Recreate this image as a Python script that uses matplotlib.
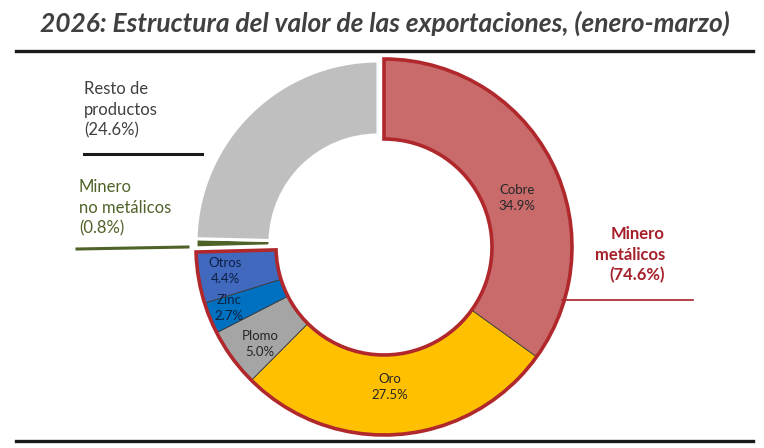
import matplotlib
matplotlib.use("Agg")
import matplotlib.pyplot as plt
from matplotlib.patches import Wedge

# ---- data ----
categories = ["Cobre", "Oro", "Plomo", "Zinc", "Otros", "Minero no metálicos", "Resto de productos"]
values = [34.9, 27.5, 5.0, 2.7, 4.4, 0.8, 24.6]
metal_labels = ["Cobre\n34.9%", "Oro\n27.5%", "Plomo\n5.0%", "Zinc\n2.7%", "Otros\n4.4%"]
group_labels = ["Minero\nmetálicos\n(74.6%)", "Minero\nno metálicos\n(0.8%)", "Resto de\nproductos\n(24.6%)"]
title = "2026: Estructura del valor de las exportaciones, (enero-marzo)"

colors = ["#C96B6B", "#FFC000", "#A5A5A5", "#0070C0", "#4169BE", "#4F6228", "#BFBFBF"]
FONT = ["Lato", "DejaVu Sans"]
plt.rcParams["font.family"] = FONT

W, H = 764, 448
def Y(py):
    return H - py

fig = plt.figure(figsize=(W / 100, H / 100), dpi=100)
ax = fig.add_axes([0, 0, 1, 1])

gray_center = (378, Y(243))
metal_center = (384, Y(247))

wedges, _ = ax.pie(values, colors=colors, startangle=90, counterclock=False,
                   radius=182, center=gray_center,
                   wedgeprops=dict(width=74, edgecolor="white", linewidth=2.2),
                   frame=False)
# metal group: slightly exploded, own outline
for w in wedges[:5]:
    w.set_center(metal_center)
    w.set_radius(188)
    w.set_width(80)
    w.set_edgecolor("#3a3a3a")
    w.set_linewidth(0.6)

outline = Wedge(metal_center, 188, wedges[4].theta1, wedges[0].theta2, width=80,
                fill=False, edgecolor="#B0282C", linewidth=2.6, zorder=5)
ax.add_patch(outline)

ax.set_xlim(0, W)
ax.set_ylim(0, H)
ax.set_aspect("equal")
ax.axis("off")

# slice labels
label_pos = [(517, 198), (390, 387), (260, 344), (229, 308), (225, 271)]
label_colors = ["#262626", "#262626", "#262626", "#0d2240", "#0d1f45"]
for txt, (px, py), c in zip(metal_labels, label_pos, label_colors):
    ax.text(px, Y(py), txt, ha="center", va="center", fontsize=9.5, color=c,
            linespacing=1.45, zorder=6)

# group labels
ax.text(665, Y(255), group_labels[0], ha="right", va="center", fontsize=12,
        fontweight="bold", color="#A5202A", linespacing=1.35)
ax.plot([562, 693], [Y(300), Y(300)], color="#A5202A", lw=1.2)

ax.text(79, Y(208), group_labels[1], ha="left", va="center", fontsize=12,
        color="#4F6228", linespacing=1.35)
ax.plot([77, 188], [Y(249), Y(247)], color="#4F6228", lw=2.2)

ax.text(84, Y(110), group_labels[2], ha="left", va="center", fontsize=12,
        color="#404040", linespacing=1.35)
ax.plot([84, 202], [Y(154), Y(154)], color="#1a1a1a", lw=2.2)

# title and rules
ax.text(385, Y(23), title, ha="center", va="center", fontsize=19,
        fontweight="bold", fontstyle="italic", color="#404040")
ax.plot([16, 753], [Y(50.5), Y(50.5)], color="#1a1a1a", lw=2.4)
ax.plot([16, 753], [Y(441.5), Y(441.5)], color="#1a1a1a", lw=2.4)

fig.savefig("out.png", dpi=100)
